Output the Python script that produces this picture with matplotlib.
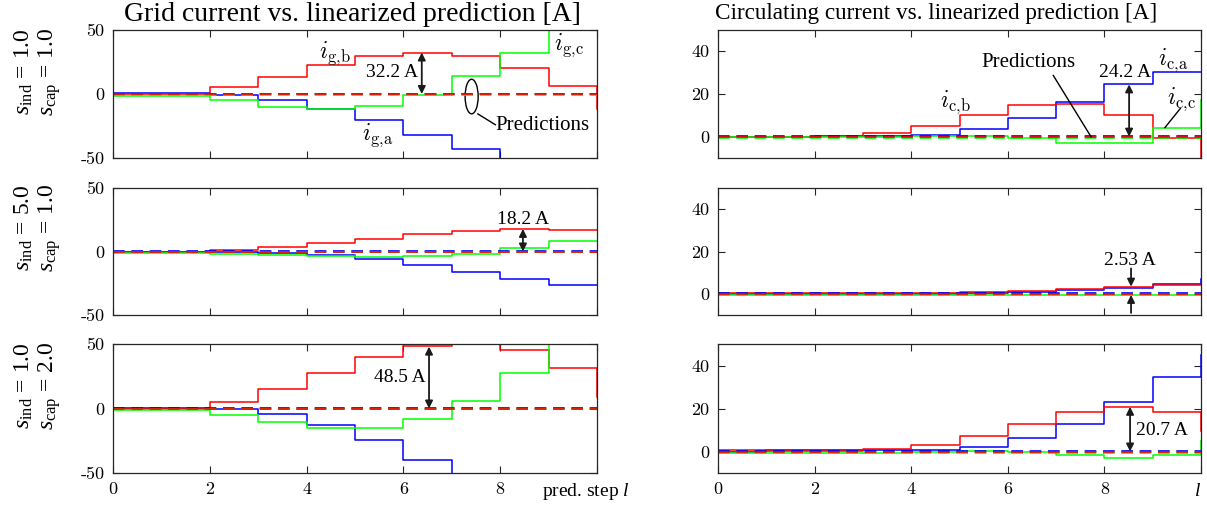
import matplotlib
matplotlib.use("Agg")
import matplotlib.pyplot as plt
from matplotlib.patches import Ellipse
import numpy as np

plt.rcParams['font.family'] = ['Liberation Serif', 'DejaVu Serif']
plt.rcParams['mathtext.fontset'] = 'custom'
plt.rcParams['mathtext.rm'] = 'Liberation Serif'
plt.rcParams['mathtext.it'] = 'Liberation Serif:italic'
plt.rcParams['mathtext.bf'] = 'Liberation Serif:bold'
plt.rcParams['axes.unicode_minus'] = False

# prediction steps
steps = np.arange(0, 11)

# grid currents, s_ind = 1.0, s_cap = 1.0
ig_a_1 = [0.5, 0.5, -0.8, -4.4, -11.4, -20.5, -32, -43, -58, -65, -70]
ig_b_1 = [0, 0, 5.2, 13.2, 22.8, 29.3, 32.4, 29.3, 20.2, 6, -11.7]
ig_c_1 = [-1.3, -1.3, -4.4, -10, -12, -9.6, -0.5, 13.7, 31.9, 55, 60]
# grid currents, s_ind = 5.0, s_cap = 1.0
ig_a_2 = [0, 0, -0.3, -1.3, -2.6, -6, -10.5, -16, -21.5, -26.4, -26.4]
ig_b_2 = [0, 0, 1, 3.7, 6.5, 10.2, 13.6, 16.5, 17.8, 17.3, 17.3]
ig_c_2 = [-1, -1, -1.8, -3.1, -3.9, -4.5, -3.7, -1.6, 3.1, 8.6, 8.6]
# grid currents, s_ind = 1.0, s_cap = 2.0
ig_a_3 = [0.5, 0.5, -0.5, -4.6, -13, -24.7, -40, -58, -65, -70, -70]
ig_b_3 = [0, 0, 5.4, 15.2, 27.6, 39.7, 48.7, 55, 45.6, 31.2, 8.8]
ig_c_3 = [-1, -1, -4.9, -10.6, -15.2, -15.2, -8.5, 5.7, 27.3, 55, 60]

# circulating currents
ic_a_1 = [0, 0, 0.3, 0.3, 0.8, 3.4, 8.6, 16.4, 24.5, 30.3, 30.3]
ic_b_1 = [0, 0, 0.3, 1.6, 5, 10.2, 14.7, 15.5, 10.2, -0.5, -15]
ic_c_1 = [-0.3, -0.3, -0.3, -0.3, 0.5, 0.5, -0.8, -3.1, -2.8, 3.9, 17]
ic_a_2 = [0, 0, 0, 0, 0, 0.3, 0.8, 1.6, 2.8, 4.8, 7]
ic_b_2 = [0.3, 0.3, 0.3, 0.3, 0.3, 0.8, 1.4, 2.3, 3.3, 4, 4]
ic_c_2 = [-0.5, -0.5, -0.5, -0.5, -0.5, -0.5, -0.5, -0.5, -0.5, -0.5, -0.5]
ic_a_3 = [0, 0.5, 0.5, 0.5, 0.8, 2.2, 6.1, 12.8, 23, 34.5, 45]
ic_b_3 = [0.5, 0.3, 0.3, 1, 3.1, 7.2, 12.8, 18.4, 20.8, 18.4, 9.6]
ic_c_3 = [-0.8, -0.8, -0.8, -0.8, 0, 0.3, -0.2, -1.7, -3, -1.6, 5]

# linearized predictions (all close to zero)
pred_a = [0.2, 0.2, 0.2, 0.2, 0.2, 0.2, 0.2, 0.2, 0.2, 0.2, 0.2]
pred_b = [0, 0, 0, 0, 0, 0, 0, 0, 0, 0, 0]
pred_c = [-0.7, -0.7, -0.7, -0.7, -0.7, -0.7, -0.7, -0.7, -0.7, -0.7, -0.7]

row_labels = [r'$s_{\mathrm{ind}}$ = 1.0' + '\n' + r'$s_{\mathrm{cap}}$ = 1.0',
              r'$s_{\mathrm{ind}}$ = 5.0' + '\n' + r'$s_{\mathrm{cap}}$ = 1.0',
              r'$s_{\mathrm{ind}}$ = 1.0' + '\n' + r'$s_{\mathrm{cap}}$ = 2.0']

grid_data = [(ig_a_1, ig_b_1, ig_c_1), (ig_a_2, ig_b_2, ig_c_2), (ig_a_3, ig_b_3, ig_c_3)]
circ_data = [(ic_a_1, ic_b_1, ic_c_1), (ic_a_2, ic_b_2, ic_c_2), (ic_a_3, ic_b_3, ic_c_3)]

colors = ['#0000ff', '#ff0000', '#00ff00']
frame_col = '#262626'

fig = plt.figure(figsize=(12.07, 5.09), dpi=100)

rows_y = [(0.6896, 0.2515), (0.3811, 0.2495), (0.0707, 0.2534)]
left_x = (0.0936, 0.401)
right_x = (0.5949, 0.4002)


def setup_axes(ax, ylim, yticks, last_row):
    ax.set_xlim(0, 10)
    ax.set_ylim(*ylim)
    ax.set_xticks([0, 2, 4, 6, 8, 10])
    if last_row:
        ax.set_xticklabels(['0', '2', '4', '6', '8', ''])
    else:
        ax.set_xticklabels([])
    ax.set_yticks(yticks)
    ax.set_yticklabels([str(t) for t in yticks])
    ax.tick_params(direction='in', top=True, right=True, length=5, width=0.8,
                   color=frame_col, labelsize=13, pad=6)
    for lab in ax.get_xticklabels() + ax.get_yticklabels():
        lab.set_fontfamily('cmr10')
    for sp in ax.spines.values():
        sp.set_color(frame_col)
        sp.set_linewidth(0.9)


def draw_series(ax, series):
    for vals, col in zip(series, colors):
        ax.step(steps, vals, where='post', color=col, lw=1.1)
    # predictions: blue first, then green, red on top
    for vals, col in zip([pred_a, pred_c, pred_b], [colors[0], colors[2], colors[1]]):
        ax.step(steps, vals, where='post', color=col, lw=1.2, dashes=(7, 4))


def double_arrow(ax, x, y0, y1):
    ax.annotate('', xy=(x, y1), xytext=(x, y0),
                arrowprops=dict(arrowstyle='<|-|>', color='#1a1a1a', lw=1.3,
                                mutation_scale=11, shrinkA=0, shrinkB=0))


def cur_label(ax, x, y, sub):
    # subscript like "g,b" without the math comma spacing
    a, b = sub.split(',')
    ax.text(x, y, r'$i_{\mathrm{%s},\!\mathrm{%s}}$' % (a, b), ha='center', va='center',
            fontsize=17, math_fontfamily='cm')


axes_l = []
axes_r = []
for i in range(3):
    b, h = rows_y[i]
    axl = fig.add_axes([left_x[0], b, left_x[1], h])
    axr = fig.add_axes([right_x[0], b, right_x[1], h])
    draw_series(axl, grid_data[i])
    draw_series(axr, circ_data[i])
    setup_axes(axl, (-50, 50), [-50, 0, 50], i == 2)
    setup_axes(axr, (-10, 50), [0, 20, 40], i == 2)
    axes_l.append(axl)
    axes_r.append(axr)

# row labels
label_y = [0.8585, 0.552, 0.242]
for lab, yy in zip(row_labels, label_y):
    fig.text(0.0315, yy, lab, rotation=90, ha='center', va='center', fontsize=17,
             multialignment='center', linespacing=1.1)

# titles
fig.text(0.292, 0.972, 'Grid current vs. linearized prediction [A]', ha='center', va='center', fontsize=20)
fig.text(0.7755, 0.974, 'Circulating current vs. linearized prediction [A]', ha='center', va='center', fontsize=16.7)

# x labels
axes_l[2].text(9.77, -0.147, r'pred. step $l$', transform=axes_l[2].get_xaxis_transform(),
               ha='center', va='center', fontsize=14)
axes_r[2].text(9.93, -0.147, r'$l$', transform=axes_r[2].get_xaxis_transform(),
               ha='center', va='center', fontsize=14)

# annotations, top left
ax = axes_l[0]
cur_label(ax, 4.58, 32, 'g,b')
cur_label(ax, 5.47, -32, 'g,a')
cur_label(ax, 9.42, 38, 'g,c')
double_arrow(ax, 6.38, 0, 32.4)
ax.text(5.76, 16.4, '32.2 A', ha='center', va='center', fontsize=14)
ax.add_patch(Ellipse((7.41, -2), 0.27, 27, fill=False, ec='black', lw=1.0))
ax.plot([7.54, 7.9], [-15.6, -24], color='black', lw=1.0)
ax.text(7.9, -25, 'Predictions', ha='left', va='center', fontsize=15)

# annotations, top right
ax = axes_r[0]
cur_label(ax, 4.91, 16, 'c,b')
cur_label(ax, 9.42, 35.8, 'c,a')
cur_label(ax, 9.6, 17.4, 'c,c')
ax.plot([9.57, 9.25], [13.2, 4.2], color='black', lw=1.0)
ax.text(6.42, 34.8, 'Predictions', ha='center', va='center', fontsize=15)
ax.plot([6.94, 7.72], [28.7, 0], color='black', lw=1.0)
double_arrow(ax, 8.51, 0, 24.5)
ax.text(8.43, 30, '24.2 A', ha='center', va='center', fontsize=14)

# middle row
ax = axes_l[1]
double_arrow(ax, 8.47, 0, 17.8)
ax.text(8.47, 25, '18.2 A', ha='center', va='center', fontsize=14)
ax = axes_r[1]
ax.text(8.53, 15.9, '2.53 A', ha='center', va='center', fontsize=14)
ax.annotate('', xy=(8.55, 3.4), xytext=(8.55, 12),
            arrowprops=dict(arrowstyle='-|>', color='#1a1a1a', lw=1.3, mutation_scale=11, shrinkA=0, shrinkB=0))
ax.annotate('', xy=(8.55, -0.5), xytext=(8.55, -9),
            arrowprops=dict(arrowstyle='-|>', color='#1a1a1a', lw=1.3, mutation_scale=11, shrinkA=0, shrinkB=0))

# bottom row
ax = axes_l[2]
double_arrow(ax, 6.53, 0, 48)
ax.text(5.93, 24, '48.5 A', ha='center', va='center', fontsize=14)
ax = axes_r[2]
double_arrow(ax, 8.53, 0, 20.8)
ax.text(9.19, 9.6, '20.7 A', ha='center', va='center', fontsize=14)

fig.savefig('out.png', dpi=100)
